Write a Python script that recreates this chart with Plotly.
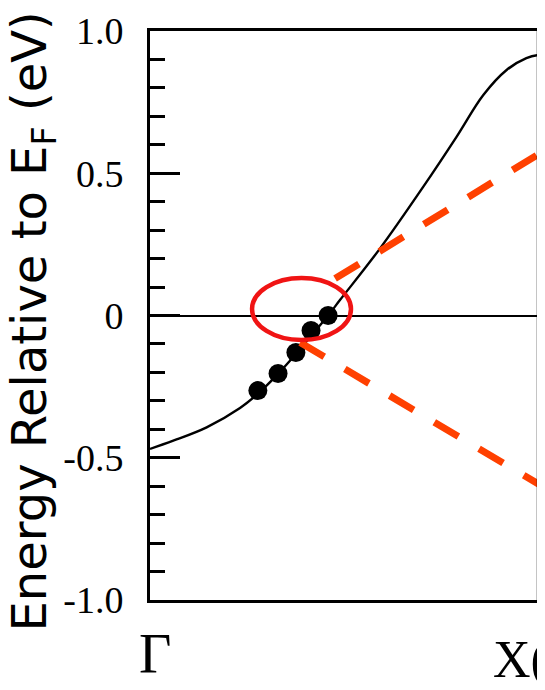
import plotly.graph_objects as go

# Band curve (fraction of Γ–X path, energy in eV)
curve_k = [0.0, 0.060, 0.146, 0.232, 0.278, 0.330, 0.376, 0.415, 0.459, 0.490,
           0.593, 0.704, 0.790, 0.859, 0.919, 0.970, 1.0, 1.018]
curve_e = [-0.469, -0.44, -0.393, -0.325, -0.275, -0.205, -0.135, -0.072, 0.0, 0.055,
           0.236, 0.452, 0.628, 0.775, 0.863, 0.905, 0.915, 0.912]

# Measured points
dots_k = [0.278, 0.330, 0.376, 0.415, 0.459]
dots_e = [-0.264, -0.204, -0.130, -0.053, 0.0]

# Dashed guide lines
upper_k = [0.477, 1.018]
upper_e = [0.130, 0.581]
lower_k = [0.387, 1.018]
lower_e = [-0.095, -0.606]

# Highlight ellipse bounds (k0, k1, e0, e1)
ellipse_box = [0.263, 0.518, -0.086, 0.132]

y_tickvals = [-1.0, -0.5, 0.0, 0.5, 1.0]
y_ticktext = ["-1.0", "-0.5", "0", "0.5", "1.0"]

k_points = [0.0, 0.878]
k_labels = ["Γ", "X("]

SERIF = "Liberation Serif, Times New Roman, serif"

fig = go.Figure()
fig.add_trace(go.Scatter(x=curve_k, y=curve_e, mode="lines",
                         line=dict(color="black", width=2.4, shape="spline", smoothing=1.0),
                         showlegend=False, hoverinfo="skip"))
fig.add_trace(go.Scatter(x=dots_k, y=dots_e, mode="markers",
                         marker=dict(color="black", size=19),
                         showlegend=False))
for kk, ee in [(upper_k, upper_e), (lower_k, lower_e)]:
    fig.add_trace(go.Scatter(x=kk, y=ee, mode="lines",
                             line=dict(color="#FF4000", width=7, dash="28px,24px"),
                             showlegend=False, hoverinfo="skip"))

fig.add_shape(type="circle", xref="x", yref="y",
              x0=ellipse_box[0], x1=ellipse_box[1], y0=ellipse_box[2], y1=ellipse_box[3],
              line=dict(color="#F01414", width=4.5))
fig.add_shape(type="line", xref="x", yref="paper", x0=1.0, x1=1.0, y0=0, y1=1,
              line=dict(color="black", width=2.5))

fig.add_annotation(text="Energy Relative to E<sub>F</sub> (eV)", xref="paper", yref="paper",
                   x=-0.298, y=0.49, textangle=-90, showarrow=False,
                   xanchor="center", yanchor="middle",
                   font=dict(family="DejaVu Sans", size=48, color="black"))

fig.add_annotation(text=k_labels[0], xref="x", yref="paper", x=k_points[0], y=-0.095,
                   xshift=5, showarrow=False, xanchor="center", yanchor="middle",
                   font=dict(family=SERIF, size=56, color="black"))
fig.add_annotation(text=k_labels[1], xref="x", yref="paper", x=k_points[1], y=-0.105,
                   showarrow=False, xanchor="left", yanchor="middle",
                   font=dict(family=SERIF, size=52, color="black"))

fig.update_xaxes(range=[0, 1.018], showline=True, mirror=True, linecolor="black",
                 linewidth=3, ticks="", showticklabels=False, showgrid=False,
                 zeroline=False, automargin=False)
fig.update_yaxes(range=[-1.0, 1.0], tickvals=y_tickvals, ticktext=y_ticktext,
                 ticks="inside", ticklen=30, tickwidth=2.5, tickcolor="black",
                 minor=dict(dtick=0.1, ticks="inside", ticklen=15, tickwidth=2.5,
                            tickcolor="black", showgrid=False),
                 showline=True, mirror=False, linecolor="black", linewidth=3,
                 zeroline=True, zerolinecolor="black", zerolinewidth=2,
                 showgrid=False, ticklabelstandoff=16, automargin=False,
                 tickfont=dict(family=SERIF, size=38, color="black"))

# page body has an 8px margin, so the figure is 8px smaller than the window
fig.update_layout(width=537, height=682, margin=dict(l=142, r=0, t=23, b=90),
                  plot_bgcolor="white", paper_bgcolor="white")

fig.write_html("out.html")
